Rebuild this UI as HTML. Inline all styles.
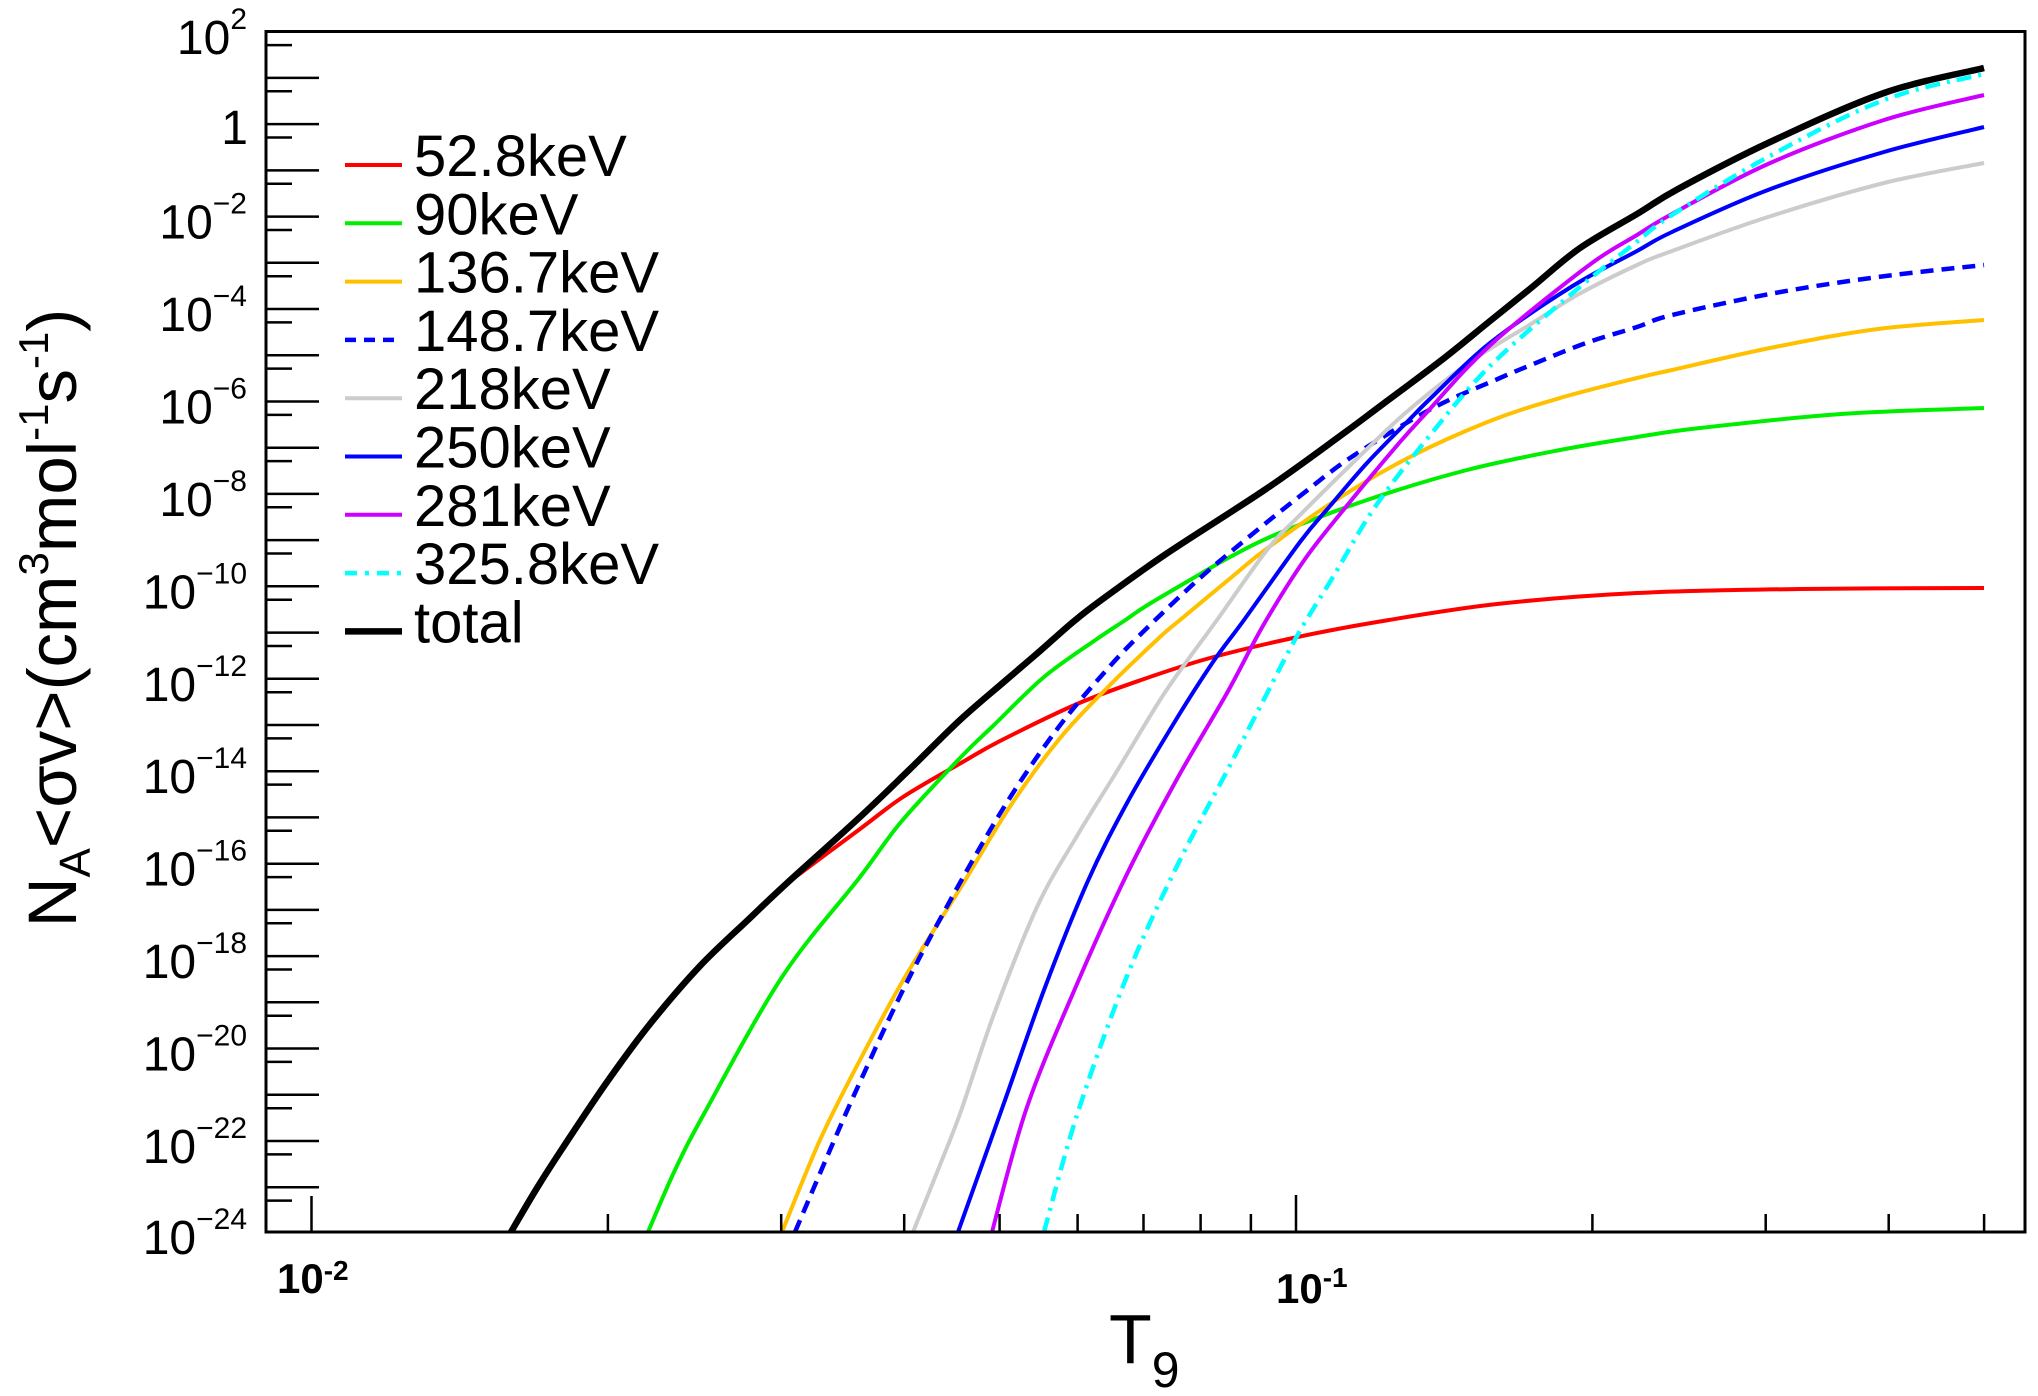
<!DOCTYPE html>
<html><head><meta charset="utf-8"><style>html,body{margin:0;padding:0;background:#fff;}svg{display:block}</style></head>
<body>
<svg width="2038" height="1396" viewBox="0 0 2038 1396" xmlns="http://www.w3.org/2000/svg" font-family="'Liberation Sans', Arial, sans-serif">
<defs><clipPath id="pa"><rect x="266" y="31.5" width="1759" height="1200.5"/></clipPath></defs>
<rect width="2038" height="1396" fill="#fff"/>

<!-- curves -->
<g clip-path="url(#pa)" fill="none" stroke-linejoin="round" stroke-linecap="butt">
<path class="c" stroke="#ff0000" stroke-width="4" d="M786 884 L860 829 L903 797 L961 763 L1000 741 L1077 704 L1144 679 L1210 658 L1293 638 L1377 622 L1497 604 L1637 593 L1800 589 L1984 588"/>
<path class="c" stroke="#00ee00" stroke-width="4" d="M648 1232 L675 1170 L705 1112 L782 977 L860 877 L901 822 L961 757 L994 725 L1044 677 L1094 641 L1124 621 L1146 606 L1190 580 L1230 557 L1277 534 L1367 500 L1467 470 L1560 450 L1637 437 L1700 428 L1841 414 L1984 408"/>
<path class="c" stroke="#ffc000" stroke-width="4" d="M782 1232 L820 1140 L860 1060 L905 977 L961 887 L1011 805 L1061 737 L1111 684 L1160 637 L1180 620 L1233 576 L1265 550 L1333 502 L1408 458 L1490 421 L1560 398 L1637 378 L1672 370 L1775 347 L1878 329 L1984 320"/>
<path class="c" stroke="#0000ff" stroke-width="4.5" stroke-dasharray="13,8" d="M795 1232 L830 1150 L860 1082 L905 986 L961 881 L1011 796 L1061 724 L1111 665 L1147 628 L1200 578 L1250 536 L1300 496 L1353 456 L1433 408 L1500 378 L1531 365 L1586 343 L1637 327 L1672 315 L1775 293 L1878 277 L1984 265"/>
<path class="c" stroke="#cccccc" stroke-width="4" d="M913 1232 L940 1165 L961 1111 L994 1014 L1037 907 L1077 836 L1117 771 L1160 700 L1187 661 L1217 620 L1267 550 L1300 515 L1367 449 L1410 409 L1470 362 L1531 324 L1579 294 L1637 265 L1672 251 L1768 217 L1884 183 L1984 163"/>
<path class="c" stroke="#0000ff" stroke-width="4" d="M958 1232 L1004 1103 L1044 990 L1087 883 L1127 803 L1174 723 L1213 662 L1244 620 L1300 542 L1330 506 L1367 463 L1408 421 L1433 396 L1490 343 L1571 287 L1637 251 L1672 232 L1768 190 L1884 152 L1984 127"/>
<path class="c" stroke="#cc00ff" stroke-width="4" d="M992 1232 L1027 1107 L1077 984 L1127 874 L1177 779 L1227 693 L1264 624 L1305 559 L1345 508 L1400 442 L1429 410 L1467 368 L1510 328 L1592 263 L1637 235 L1672 214 L1768 164 L1884 120 L1984 95"/>
<path class="c" stroke="#00ffff" stroke-width="4.5" stroke-dasharray="15,7,3,7" d="M1044 1232 L1077 1115 L1127 976 L1177 866 L1227 771 L1260 707 L1297 636 L1333 577 L1375 507 L1431 434 L1491 365 L1575 291 L1634 244 L1672 215 L1768 157 L1884 100 L1984 74"/>
<path class="c" stroke="#000" stroke-width="6.5" d="M511 1232 L537 1188 L562 1149 L607 1082 L650 1024 L700 966 L750 918 L786 884 L860 817 L909 770 L960 720 L1005 681 L1040 651 L1073 622 L1100 601 L1166 554 L1266 489 L1340 436 L1383 404 L1443 359 L1490 321 L1531 288 L1580 248 L1637 214 L1678 189 L1768 143 L1884 93 L1984 68"/>
</g>

<!-- frame -->
<rect x="266" y="31.5" width="1759" height="1200.5" fill="none" stroke="#000" stroke-width="3"/>

<!-- y ticks -->
<path stroke="#000" stroke-width="2.5" fill="none" d="M266 77.9H319 M266 124.1H319 M266 170.4H319 M266 216.6H319 M266 262.8H319 M266 309H319 M266 355.2H319 M266 401.5H319 M266 447.7H319 M266 493.9H319 M266 540.1H319 M266 586.3H319 M266 632.6H319 M266 678.8H319 M266 725H319 M266 771.2H319 M266 817.4H319 M266 863.7H319 M266 909.9H319 M266 956.1H319 M266 1002.3H319 M266 1048.5H319 M266 1094.8H319 M266 1141H319 M266 1187.2H319"/>
<path stroke="#000" stroke-width="2.5" fill="none" d="M266 45.1H292 M266 91.3H292 M266 137.5H292 M266 183.8H292 M266 230H292 M266 276.2H292 M266 322.4H292 M266 368.6H292 M266 414.9H292 M266 461.1H292 M266 507.3H292 M266 553.5H292 M266 599.7H292 M266 646H292 M266 692.2H292 M266 738.4H292 M266 784.6H292 M266 830.8H292 M266 877.1H292 M266 923.3H292 M266 969.5H292 M266 1015.7H292 M266 1061.9H292 M266 1108.2H292 M266 1154.4H292 M266 1200.6H292"/>

<!-- x ticks -->
<path stroke="#000" stroke-width="2.5" fill="none" d="M311.5 1232V1196 M1296 1232V1195 M607.9 1232V1214 M781.2 1232V1214 M904.2 1232V1214 M999.6 1232V1214 M1077.6 1232V1214 M1143.5 1232V1214 M1200.6 1232V1214 M1250.9 1232V1214 M1592.4 1232V1214 M1765.7 1232V1214 M1888.7 1232V1214 M1984.1 1232V1214"/>

<!-- y labels -->
<g fill="#000" text-anchor="end">
<text x="247" y="54"><tspan font-size="48">10</tspan><tspan font-size="30" dy="-25">2</tspan></text>
<text x="248" y="144" font-size="48">1</text>
<text x="247" y="238.6"><tspan font-size="48">10</tspan><tspan font-size="30" dy="-25">−2</tspan></text>
<text x="247" y="331"><tspan font-size="48">10</tspan><tspan font-size="30" dy="-25">−4</tspan></text>
<text x="247" y="423.5"><tspan font-size="48">10</tspan><tspan font-size="30" dy="-25">−6</tspan></text>
<text x="247" y="515.9"><tspan font-size="48">10</tspan><tspan font-size="30" dy="-25">−8</tspan></text>
<text x="247" y="608.3"><tspan font-size="48">10</tspan><tspan font-size="30" dy="-25">−10</tspan></text>
<text x="247" y="700.8"><tspan font-size="48">10</tspan><tspan font-size="30" dy="-25">−12</tspan></text>
<text x="247" y="793.2"><tspan font-size="48">10</tspan><tspan font-size="30" dy="-25">−14</tspan></text>
<text x="247" y="885.7"><tspan font-size="48">10</tspan><tspan font-size="30" dy="-25">−16</tspan></text>
<text x="247" y="978.1"><tspan font-size="48">10</tspan><tspan font-size="30" dy="-25">−18</tspan></text>
<text x="247" y="1070.5"><tspan font-size="48">10</tspan><tspan font-size="30" dy="-25">−20</tspan></text>
<text x="247" y="1163"><tspan font-size="48">10</tspan><tspan font-size="30" dy="-25">−22</tspan></text>
<text x="247" y="1254"><tspan font-size="48">10</tspan><tspan font-size="30" dy="-25">−24</tspan></text>
</g>

<!-- x labels -->
<g fill="#000" font-weight="bold">
<text x="277" y="1293"><tspan font-size="42">10</tspan><tspan font-size="28" dy="-13">-2</tspan></text>
<text x="1276" y="1303"><tspan font-size="42">10</tspan><tspan font-size="28" dy="-16">-1</tspan></text>
</g>

<!-- x title -->
<text x="1109" y="1363" fill="#000"><tspan font-size="70">T</tspan><tspan font-size="50" dy="24">9</tspan></text>

<!-- y title -->
<text transform="translate(76,618) rotate(-90)" text-anchor="middle" font-size="69" fill="#000">N<tspan font-size="44" dy="14">A</tspan><tspan dy="-14">&lt;σv&gt;(cm</tspan><tspan font-size="42" dy="-28">3</tspan><tspan dy="28">mol</tspan><tspan font-size="42" dy="-28">-1</tspan><tspan dy="28">s</tspan><tspan font-size="42" dy="-28">-1</tspan><tspan dy="28">)</tspan></text>

<!-- legend -->
<g fill="none">
<path stroke="#ff0000" stroke-width="4" d="M345 165H402"/>
<path stroke="#00ee00" stroke-width="4" d="M345 223.3H402"/>
<path stroke="#ffc000" stroke-width="4" d="M345 281.6H402"/>
<path stroke="#0000ff" stroke-width="4.5" stroke-dasharray="11,8" d="M345 339.9H402"/>
<path stroke="#cccccc" stroke-width="4" d="M345 398.2H402"/>
<path stroke="#0000ff" stroke-width="4" d="M345 456.5H402"/>
<path stroke="#cc00ff" stroke-width="4" d="M345 514.8H402"/>
<path stroke="#00ffff" stroke-width="4.5" stroke-dasharray="12,8,4,8" d="M345 573.1H402"/>
<path stroke="#000" stroke-width="6.5" d="M345 631.4H402"/>
</g>
<g fill="#000" font-size="58">
<text x="414" y="176">52.8keV</text>
<text x="414" y="234.3">90keV</text>
<text x="414" y="292.6">136.7keV</text>
<text x="414" y="350.9">148.7keV</text>
<text x="414" y="409.2">218keV</text>
<text x="414" y="467.5">250keV</text>
<text x="414" y="525.8">281keV</text>
<text x="414" y="584.1">325.8keV</text>
<text x="414" y="642.4">total</text>
</g>
</svg>
<script>
(function(){
  var paths=document.querySelectorAll('path.c');
  for(var k=0;k<paths.length;k++){
    var p=paths[k];
    var nums=p.getAttribute('d').match(/-?\d+(\.\d+)?/g).map(Number);
    var pts=[];
    for(var i=0;i<nums.length;i+=2)pts.push([nums[i],nums[i+1]]);
    var d='M'+pts[0][0]+' '+pts[0][1];
    for(var i=0;i<pts.length-1;i++){
      var p0=pts[i-1]||pts[i],p1=pts[i],p2=pts[i+1],p3=pts[i+2]||p2;
      var c1x=p1[0]+(p2[0]-p0[0])/6,c1y=p1[1]+(p2[1]-p0[1])/6;
      var c2x=p2[0]-(p3[0]-p1[0])/6,c2y=p2[1]-(p3[1]-p1[1])/6;
      d+=' C'+c1x.toFixed(1)+' '+c1y.toFixed(1)+' '+c2x.toFixed(1)+' '+c2y.toFixed(1)+' '+p2[0]+' '+p2[1];
    }
    p.setAttribute('d',d);
  }
})();
</script>
</body></html>
